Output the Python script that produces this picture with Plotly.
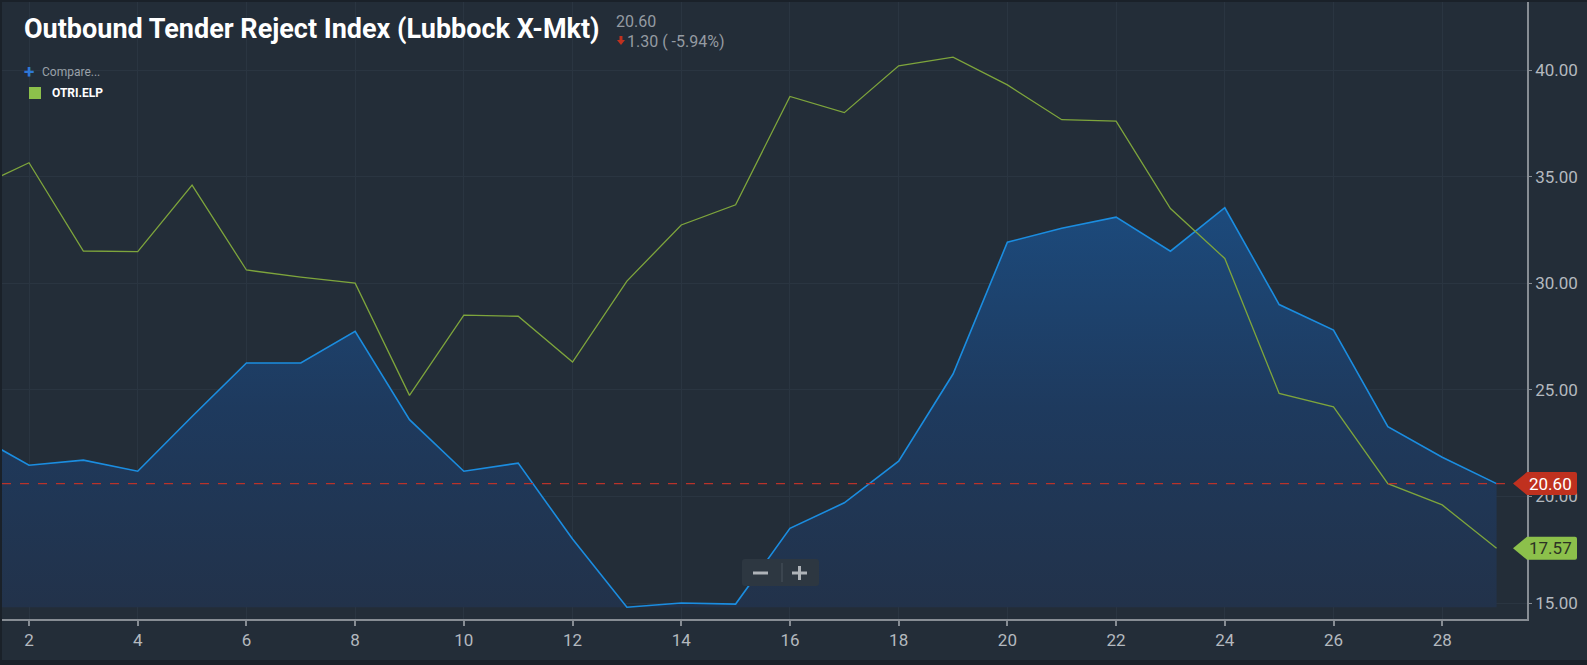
import plotly.graph_objects as go

# ---------------- data ----------------
days = list(range(1, 30))
otri_lbb = [22.9, 21.46, 21.7, 21.18, 23.75, 26.26, 26.26, 27.74, 23.6, 21.18,
            21.56, 18.0, 14.8, 15.0, 14.95, 18.5, 19.7, 21.65, 25.74, 31.92,
            32.58, 33.1, 31.5, 33.54, 29.0, 27.8, 23.27, 21.84, 20.6]
otri_elp = [34.44, 35.65, 31.51, 31.48, 34.6, 30.62, 30.29, 30.0, 24.74, 28.5,
            28.45, 26.3, 30.1, 32.73, 33.68, 38.76, 38.0, 40.2, 40.6, 39.3,
            37.67, 37.6, 33.5, 31.16, 24.83, 24.2, 20.6, 19.6, 17.57]
x_ticks = list(range(2, 30, 2))
y_ticks = [15, 20, 25, 30, 35, 40]
title_text = "Outbound Tender Reject Index (Lubbock X-Mkt)"
last_value = "20.60"
change_text = "1.30 ( -5.94%)"
compare_text = "Compare..."
legend_name = "OTRI.ELP"

# ---------------- layout constants ----------------
W, H = 1587, 665
L, R, T, B = 2, 60, 2, 46
PW, PH = W - L - R, H - T - B

BG = "#232d38"
GRID = "#2a3541"
AXIS = "#878d94"
TICKC = "#b4b9bf"
BLUE = "#1b8de0"
GREEN = "#7ea53c"
GREEN_LBL = "#8cc04b"
RED = "#c0311f"


def px(xp):
    return (xp - L) / PW


def py(yp):
    return 1 - (yp - T) / PH


fig = go.Figure()

base = [min(otri_lbb)] * len(days)
fig.add_trace(go.Scatter(x=days, y=base, mode="lines", line=dict(width=0),
                         hoverinfo="skip", showlegend=False))
fig.add_trace(go.Scatter(
    x=days, y=otri_lbb, mode="lines", fill="tonexty",
    fillgradient=dict(type="vertical",
                      colorscale=[[0, "rgba(34,50,74,1)"], [0.5, "rgba(30,58,94,1)"],
                                  [1, "rgba(28,74,124,1)"]]),
    line=dict(color=BLUE, width=1.6), name="OTRI", showlegend=False))
fig.add_trace(go.Scatter(x=days, y=otri_elp, mode="lines",
                         line=dict(color=GREEN, width=1.3), name=legend_name,
                         showlegend=False))

shapes = []
annotations = []

# dashed last-value line
lv = otri_lbb[-1]
shapes.append(dict(type="line", xref="paper", x0=0, x1=1, yref="y", y0=lv, y1=lv,
                   line=dict(color="#b8332a", width=1.2, dash="dash"), layer="above"))

# value labels on the right axis
for val, fill, txtc in [(otri_lbb[-1], RED, "#ffffff"), (otri_elp[-1], GREEN_LBL, "#2c3324")]:
    shapes.append(dict(type="path", xref="paper", xsizemode="pixel", xanchor=1,
                       yref="y", ysizemode="pixel", yanchor=val,
                       path="M -14 0 L 0 11.5 L 48 11.5 Q 50 11.5 50 9.5 L 50 -9.5 Q 50 -11.5 48 -11.5 L 0 -11.5 Z",
                       fillcolor=fill, line=dict(width=0), layer="above"))
    annotations.append(dict(xref="paper", x=1, xshift=23, yref="y", y=val,
                            text=f"{val:.2f}", showarrow=False,
                            font=dict(family="Roboto", size=17, color=txtc),
                            xanchor="center", yanchor="middle"))

# title
annotations.append(dict(xref="paper", yref="paper", x=px(22), y=py(29), text=title_text,
                        showarrow=False, xanchor="left", yanchor="middle",
                        font=dict(family="Roboto", size=27,
                                  color="#ffffff", weight="bold")))
annotations.append(dict(xref="paper", yref="paper", x=px(614), y=py(21), text=last_value,
                        showarrow=False, xanchor="left", yanchor="middle",
                        font=dict(family="Roboto", size=16, color="#959ba2")))
# small red down-arrow drawn as a shape
shapes.append(dict(type="path", xref="paper", yref="paper",
                   path=f"M {px(619.5)} {py(36)} L {px(622.5)} {py(36)} L {px(622.5)} {py(40)} "
                        f"L {px(625)} {py(40)} L {px(621)} {py(45)} L {px(617)} {py(40)} "
                        f"L {px(619.5)} {py(40)} Z",
                   fillcolor=RED, line=dict(width=0), layer="above"))
annotations.append(dict(xref="paper", yref="paper", x=px(625), y=py(41),
                        text=change_text,
                        showarrow=False, xanchor="left", yanchor="middle",
                        font=dict(family="Roboto", size=16, color="#959ba2")))

# compare / legend
annotations.append(dict(xref="paper", yref="paper", x=px(22), y=py(71), text="<b>+</b>",
                        showarrow=False, xanchor="left", yanchor="middle",
                        font=dict(family="Roboto", size=19, color="#2e78d6")))
annotations.append(dict(xref="paper", yref="paper", x=px(40), y=py(72), text=compare_text,
                        showarrow=False, xanchor="left", yanchor="middle",
                        font=dict(family="Roboto", size=12, color="#9aa1a8")))
shapes.append(dict(type="rect", xref="paper", yref="paper", x0=px(29), x1=px(41),
                   y0=py(99), y1=py(87), fillcolor=GREEN_LBL, line=dict(width=0), layer="above"))
annotations.append(dict(xref="paper", yref="paper", x=px(50), y=py(93), text=legend_name,
                        showarrow=False, xanchor="left", yanchor="middle",
                        font=dict(family="Roboto", size=12, color="#ffffff", weight="bold")))

# zoom control
shapes.append(dict(type="path", xref="paper", yref="paper",
                   path=f"M {px(745)} {py(559)} L {px(816)} {py(559)} Q {px(819)} {py(559)} {px(819)} {py(562)} "
                        f"L {px(819)} {py(583)} Q {px(819)} {py(586)} {px(816)} {py(586)} "
                        f"L {px(745)} {py(586)} Q {px(742)} {py(586)} {px(742)} {py(583)} "
                        f"L {px(742)} {py(562)} Q {px(742)} {py(559)} {px(745)} {py(559)} Z",
                   fillcolor="#2d3741", line=dict(width=0), layer="above"))
shapes.append(dict(type="line", xref="paper", yref="paper", x0=px(782), x1=px(782),
                   y0=py(563), y1=py(582), line=dict(color="#4a545e", width=1), layer="above"))
shapes.append(dict(type="line", xref="paper", yref="paper", x0=px(753), x1=px(768),
                   y0=py(573), y1=py(573), line=dict(color="#aeb3b8", width=3), layer="above"))
shapes.append(dict(type="line", xref="paper", yref="paper", x0=px(792), x1=px(807),
                   y0=py(573), y1=py(573), line=dict(color="#aeb3b8", width=3), layer="above"))
shapes.append(dict(type="line", xref="paper", yref="paper", x0=px(799.5), x1=px(799.5),
                   y0=py(566), y1=py(580), line=dict(color="#aeb3b8", width=3), layer="above"))

# dark frame edges
shapes.append(dict(type="rect", xref="paper", yref="paper", x0=px(0), x1=px(W), y0=py(0), y1=py(2),
                   fillcolor="#1a2129", line=dict(width=0), layer="above"))
shapes.append(dict(type="rect", xref="paper", yref="paper", x0=px(0), x1=px(2), y0=py(0), y1=py(H),
                   fillcolor="#1a2129", line=dict(width=0), layer="above"))
shapes.append(dict(type="rect", xref="paper", yref="paper", x0=px(0), x1=px(W), y0=py(660), y1=py(H),
                   fillcolor="#1a2129", line=dict(width=0), layer="above"))

fig.update_layout(
    width=W, height=H, margin=dict(l=L, r=R, t=T, b=B),
    paper_bgcolor=BG, plot_bgcolor=BG, showlegend=False,
    shapes=shapes, annotations=annotations,
    xaxis=dict(range=[1.503, 29.56], tickvals=x_ticks, ticktext=[str(v) for v in x_ticks],
               showgrid=True, gridcolor=GRID, gridwidth=1, zeroline=False,
               showline=True, linecolor=AXIS, linewidth=1.5,
               ticks="outside", ticklen=5, tickcolor=AXIS, tickwidth=1.5,
               tickfont=dict(family="Roboto", size=17, color=TICKC)),
    yaxis=dict(range=[14.25, 43.19], side="right", tickvals=y_ticks,
               ticktext=[f"{v:.2f}" for v in y_ticks],
               showgrid=True, gridcolor=GRID, gridwidth=1, zeroline=False,
               showline=True, linecolor=AXIS, linewidth=1.5,
               ticks="outside", ticklen=3, tickcolor=AXIS, tickwidth=1,
               tickfont=dict(family="Roboto", size=17, color=TICKC)),
)

fig.write_html("out.html")
